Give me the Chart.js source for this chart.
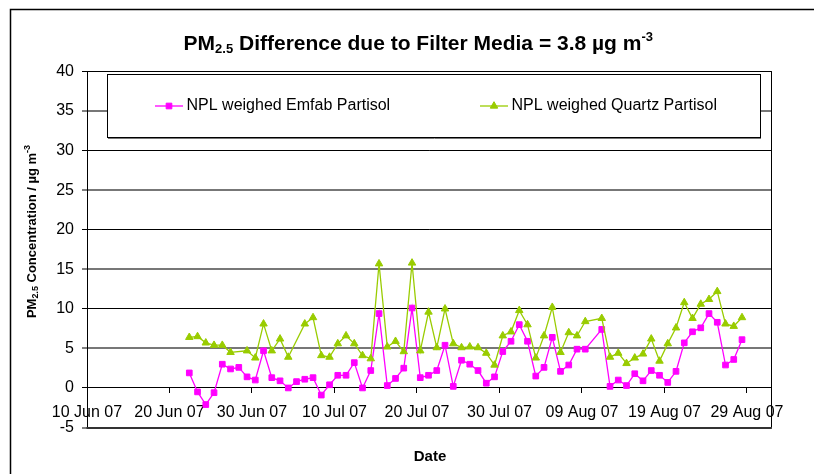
<!DOCTYPE html>
<html>
<head>
<meta charset="utf-8">
<script src="https://cdn.jsdelivr.net/npm/chart.js@4.4.1/dist/chart.umd.min.js"></script>
<style>
html,body{margin:0;padding:0;background:#fff;}
#wrap{width:814px;height:474px;position:relative;}
</style>
</head>
<body>
<div id="wrap"><canvas id="c" width="814" height="474"></canvas></div>
<script>
// ---------- data ----------
const dates = [
 '2007-06-22','2007-06-23','2007-06-24','2007-06-25','2007-06-26','2007-06-27','2007-06-28','2007-06-29','2007-06-30',
 '2007-07-01','2007-07-02','2007-07-03','2007-07-04','2007-07-05','2007-07-06','2007-07-07','2007-07-08','2007-07-09',
 '2007-07-10','2007-07-11','2007-07-12','2007-07-13','2007-07-14','2007-07-15','2007-07-16','2007-07-17','2007-07-18',
 '2007-07-19','2007-07-20','2007-07-21','2007-07-22','2007-07-23','2007-07-24','2007-07-25','2007-07-26','2007-07-27',
 '2007-07-28','2007-07-29','2007-07-30','2007-07-31','2007-08-01','2007-08-02','2007-08-03','2007-08-04','2007-08-05',
 '2007-08-06','2007-08-07','2007-08-08','2007-08-09','2007-08-10','2007-08-11','2007-08-12','2007-08-13','2007-08-14',
 '2007-08-15','2007-08-16','2007-08-17','2007-08-18','2007-08-19','2007-08-20','2007-08-21','2007-08-22','2007-08-23',
 '2007-08-24','2007-08-25','2007-08-26','2007-08-27','2007-08-28'
];
const emfabValues = [
 1.9,-0.5,-2.1,-0.6,3.0,2.4,2.6,1.4,1.0,
 4.7,1.3,0.9,0.0,0.8,1.1,1.3,-0.9,0.4,
 1.6,1.6,3.2,0.0,2.2,9.4,0.3,1.2,2.5,
 10.1,1.3,1.6,2.2,5.4,0.2,3.5,3.0,2.2,
 0.6,1.4,4.6,5.9,8.0,5.9,1.5,2.6,6.4,
 2.1,2.9,4.9,4.9,null,7.4,0.2,1.0,0.3,
 1.8,0.9,2.2,1.6,0.7,2.1,5.7,7.1,7.6,
 9.4,8.3,2.9,3.6,6.1
];
const quartzValues = [
 6.4,6.5,5.7,5.4,5.4,4.5,null,4.7,3.8,
 8.1,4.7,6.2,3.9,null,8.1,8.9,4.1,3.9,
 5.6,6.6,5.6,4.1,3.7,15.7,5.2,5.9,4.6,
 15.8,4.7,9.6,5.1,10.0,5.6,5.1,5.2,5.1,
 4.4,2.9,6.6,7.1,9.8,8.0,3.8,6.6,10.2,
 4.5,7.0,6.6,8.4,null,8.8,3.9,4.4,3.1,
 3.8,4.3,6.2,3.4,5.6,7.6,10.8,8.8,10.6,
 11.2,12.2,8.1,7.8,8.9
];
const seriesNames = ['NPL weighed Emfab Partisol','NPL weighed Quartz Partisol'];
const xTickLabels = ['10 Jun 07','20 Jun 07','30 Jun 07','10 Jul 07','20 Jul 07','30 Jul 07','09 Aug 07','19 Aug 07','29 Aug 07'];
const yMin = -5, yMax = 40, yStep = 5;

// ---------- helpers ----------
const FONT = "'Liberation Sans', Arial, Helvetica, sans-serif";
const DAY0 = Date.UTC(2007,5,10);
const X_SHIFT = 0.4;          // daily value plotted inside its day band (Excel date axis)
const X_MAX_DAYS = 83;        // axis runs to 1 Sep 07
function dayIndex(s){const p=s.split('-').map(Number);return (Date.UTC(p[0],p[1]-1,p[2])-DAY0)/86400000;}
const toPts = vals => dates.map((d,i)=>({x:dayIndex(d)+X_SHIFT, y:vals[i]}));

const PINK = '#FF00FF', GREEN = '#99CC00';

function drawRich(ctx, parts, x, y){
  let cx = x;
  for (const p of parts){ ctx.font = p.font; ctx.fillText(p.t, cx, y + (p.dy||0)); cx += ctx.measureText(p.t).width; }
}
function richWidth(ctx, parts){
  let w = 0;
  for (const p of parts){ ctx.font = p.font; w += ctx.measureText(p.t).width; }
  return w;
}

const decorPlugin = {
  id: 'decor',
  beforeDraw(chart){
    const ctx = chart.ctx;
    ctx.save();
    ctx.fillStyle = '#fff';
    ctx.fillRect(0,0,chart.width,chart.height);
    ctx.restore();
  },
  afterDraw(chart){
    const ctx = chart.ctx, a = chart.chartArea;
    ctx.save();
    // outer chart border
    ctx.strokeStyle = '#000'; ctx.lineWidth = 1.5;
    ctx.beginPath(); ctx.moveTo(10.5, chart.height+2); ctx.lineTo(10.5, 9.5); ctx.lineTo(chart.width+2, 9.5); ctx.stroke();
    // plot area borders
    ctx.lineWidth = 1; ctx.strokeStyle = '#000';
    ctx.beginPath(); ctx.moveTo(Math.round(a.right)-0.5, a.top); ctx.lineTo(Math.round(a.right)-0.5, a.bottom); ctx.stroke();
    ctx.beginPath(); ctx.moveTo(a.left, a.top); ctx.lineTo(a.right, a.top); ctx.stroke();
    ctx.lineWidth = 2; ctx.strokeStyle = '#333';
    ctx.beginPath(); ctx.moveTo(a.left-0.5, 428); ctx.lineTo(a.right, 428); ctx.stroke();

    // legend box
    ctx.fillStyle = '#fff';
    ctx.fillRect(107.5, 74.5, 653, 63);
    ctx.lineWidth = 1; ctx.strokeStyle = '#000';
    ctx.strokeRect(107.5, 74.5, 653, 63);
    ctx.strokeStyle = '#777';
    ctx.beginPath(); ctx.moveTo(108, 138.5); ctx.lineTo(761, 138.5); ctx.stroke();
    const ly = 106;
    const items = [
      {x0:155, x1:183, tx:186.5, color:PINK, style:'rect', r:4.0},
      {x0:480, x1:508, tx:511.5, color:GREEN, style:'triangle', r:4.3}
    ];
    items.forEach((it, i)=>{
      ctx.strokeStyle = it.color; ctx.lineWidth = 1.3;
      ctx.beginPath(); ctx.moveTo(it.x0, ly); ctx.lineTo(it.x1, ly); ctx.stroke();
      ctx.fillStyle = it.color; ctx.strokeStyle = it.color; ctx.lineWidth = 1;
      Chart.helpers.drawPoint(ctx, {pointStyle: it.style, radius: it.r, borderWidth: 1}, (it.x0+it.x1)/2, ly);
      ctx.fillStyle = '#000'; ctx.font = '16px ' + FONT; ctx.textBaseline = 'middle'; ctx.textAlign = 'left';
      ctx.fillText(seriesNames[i], it.tx, ly);
    });

    // title
    ctx.fillStyle = '#000'; ctx.textBaseline = 'alphabetic'; ctx.textAlign = 'left';
    const tBig = 'bold 21px ' + FONT, tSmall = 'bold 13px ' + FONT;
    const titleParts = [
      {t:'PM', font:tBig}, {t:'2.5', font:tSmall, dy:3},
      {t:' Difference due to Filter Media = 3.8 \u00B5g m', font:tBig}, {t:'-3', font:tSmall, dy:-9}
    ];
    const tw = richWidth(ctx, titleParts);
    drawRich(ctx, titleParts, 418.3 - tw/2, 50);

    // y axis title (rotated)
    const yBig = 'bold 13px ' + FONT, ySmall = 'bold 9px ' + FONT;
    const yParts = [
      {t:'PM', font:yBig}, {t:'2.5', font:ySmall, dy:2.5},
      {t:' Concentration / \u00B5g m', font:yBig}, {t:'-3', font:ySmall, dy:-6}
    ];
    ctx.save();
    ctx.translate(31, 231.5);
    ctx.rotate(-Math.PI/2);
    const yw = richWidth(ctx, yParts);
    drawRich(ctx, yParts, -yw/2, 4.6);
    ctx.restore();

    // x axis title
    ctx.font = 'bold 15px ' + FONT; ctx.textAlign = 'center'; ctx.textBaseline = 'middle';
    ctx.fillText('Date', 430, 457);
    ctx.restore();
  }
};

new Chart(document.getElementById('c'), {
  type: 'line',
  data: {
    datasets: [
      {
        label: seriesNames[0], data: toPts(emfabValues),
        borderColor: PINK, backgroundColor: PINK, borderWidth: 1.3,
        pointStyle: 'rect', pointRadius: 4.0, pointBorderWidth: 1,
        pointBackgroundColor: PINK, pointBorderColor: PINK,
        spanGaps: true, tension: 0, order: 1
      },
      {
        label: seriesNames[1], data: toPts(quartzValues),
        borderColor: GREEN, backgroundColor: GREEN, borderWidth: 1.3,
        pointStyle: 'triangle', pointRadius: 4.3, pointBorderWidth: 1,
        pointBackgroundColor: GREEN, pointBorderColor: GREEN,
        spanGaps: true, tension: 0, order: 0
      }
    ]
  },
  options: {
    responsive: false,
    animation: false,
    devicePixelRatio: 1,
    layout: { padding: { left: 0, top: 71.5, right: 42.3, bottom: 46.5 } },
    plugins: { legend: { display: false }, title: { display: false }, tooltip: { enabled: false } },
    scales: {
      x: {
        type: 'linear',
        position: { y: 0 },
        min: 0, max: X_MAX_DAYS,
        afterBuildTicks: s => { s.ticks = xTickLabels.map((_, i) => ({ value: i * 10 })); },
        afterFit: s => { s.height = 0; s.paddingLeft = 0; s.paddingRight = 0; },
        grid: { display: true, drawOnChartArea: false, drawTicks: true, tickLength: 5, color: '#000', tickColor: '#000', lineWidth: 1 },
        border: { display: true, color: '#000', width: 1 },
        ticks: {
          autoSkip: false, maxRotation: 0, minRotation: 0, padding: 10,
          color: '#000', font: { family: FONT, size: 16 },
          callback: (v, i) => xTickLabels[i]
        }
      },
      y: {
        type: 'linear',
        min: yMin, max: yMax,
        afterFit: s => { s.width = 87; },
        grid: {
          color: c => (c.tick && Math.abs(c.tick.value % 10) === 5) ? '#777' : '#000',
          lineWidth: c => (c.tick && Math.abs(c.tick.value % 10) === 5) ? 2 : 1,
          tickLength: 5, tickColor: '#000', tickWidth: 1
        },
        border: { display: true, color: '#000', width: 1 },
        ticks: { stepSize: yStep, padding: 8, color: '#000', font: { family: FONT, size: 16 } }
      }
    }
  },
  plugins: [decorPlugin]
});
</script>
</body>
</html>
